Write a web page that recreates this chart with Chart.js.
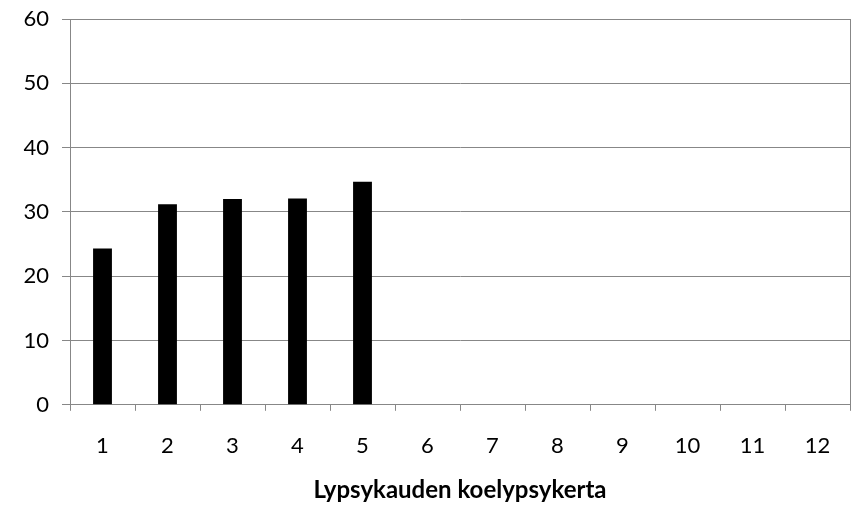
<!DOCTYPE html>
<html>
<head>
<meta charset="utf-8">
<script src="https://cdn.jsdelivr.net/npm/chart.js@4"></script>
<style>
  html, body { margin: 0; padding: 0; background: #fff; }
  #wrap { width: 854px; height: 510px; }
</style>
</head>
<body>
<div id="wrap"><canvas id="chart" width="854" height="510"></canvas></div>
<script>
const categories = ["1", "2", "3", "4", "5", "6", "7", "8", "9", "10", "11", "12"];
const values = [24.3, 31.2, 32.0, 32.1, 34.7, null, null, null, null, null, null, null];
const yTicks = [0, 10, 20, 30, 40, 50, 60];
const xTitle = "Lypsykauden koelypsykerta";

const gray = "#878787";
const font = { family: "Lato", size: 22 };

new Chart(document.getElementById("chart").getContext("2d"), {
  type: "bar",
  data: {
    labels: categories,
    datasets: [{
      data: values,
      backgroundColor: "#000",
      barPercentage: 0.58,
      categoryPercentage: 0.5
    }]
  },
  options: {
    responsive: false,
    animation: false,
    layout: { padding: { top: 19, right: 4, left: 0, bottom: 5 } },
    plugins: { legend: { display: false }, tooltip: { enabled: false } },
    scales: {
      x: {
        grid: {
          offset: true,
          drawOnChartArea: true,
          // only the closing line on the right is drawn inside the plot
          color: ctx => ctx.index === undefined ? gray : "transparent",
          tickColor: gray,
          tickLength: 6
        },
        border: { color: gray, width: 1 },
        ticks: { color: "#000", font: font, padding: 22, maxRotation: 0 },
        title: {
          display: true,
          text: xTitle,
          color: "#000",
          font: { family: "Lato", size: 24, weight: "bold" },
          padding: { top: -5, bottom: 0 }
        }
      },
      y: {
        min: 0,
        max: 60,
        afterFit: s => { s.width = 70; s.paddingTop = 0; s.paddingBottom = 0; },
        afterBuildTicks: s => { s.ticks = yTicks.map(v => ({ value: v })); },
        grid: { color: gray, tickColor: gray, tickLength: 8 },
        border: { color: gray, width: 1 },
        ticks: { color: "#000", font: font, padding: 13 }
      }
    }
  }
});
</script>
</body>
</html>
